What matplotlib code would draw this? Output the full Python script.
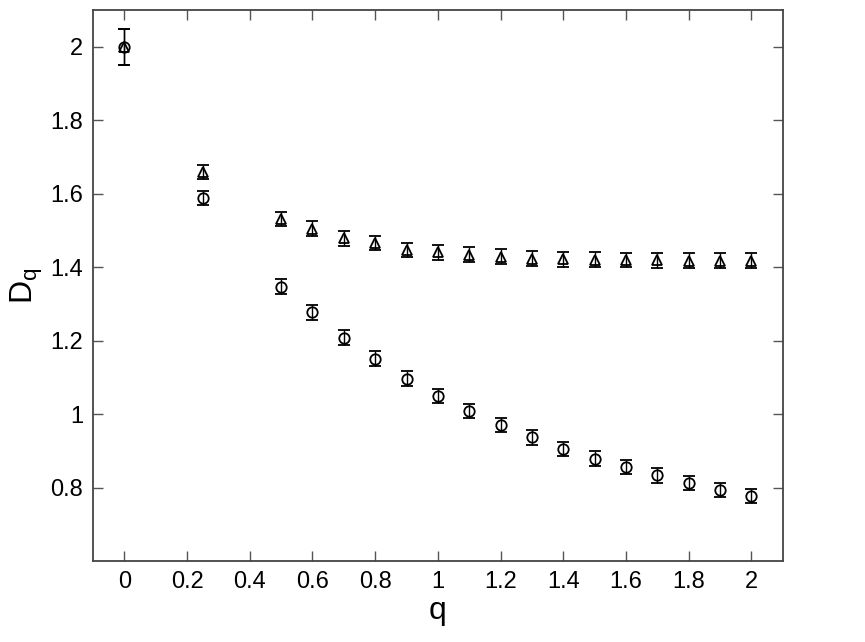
import matplotlib
matplotlib.use('Agg')
import matplotlib.pyplot as plt
import numpy as np

plt.rcParams['font.family'] = ['Liberation Sans', 'DejaVu Sans']

q = [0, 0.25, 0.5, 0.6, 0.7, 0.8, 0.9, 1.0, 1.1, 1.2, 1.3, 1.4, 1.5, 1.6, 1.7, 1.8, 1.9, 2.0]
# triangles (upper branch)
d_tri = [2.0, 1.66, 1.532, 1.505, 1.479, 1.466, 1.447, 1.441, 1.434, 1.429, 1.424, 1.422,
         1.421, 1.420, 1.419, 1.418, 1.418, 1.418]
err_tri = [0.05] + [0.02]*17
# circles (lower branch)
d_circ = [2.0, 1.589, 1.347, 1.277, 1.208, 1.151, 1.097, 1.050, 1.009, 0.971, 0.937, 0.905,
          0.879, 0.856, 0.834, 0.813, 0.794, 0.777]
err_circ = [0.05] + [0.02]*17

xticks = [0, 0.2, 0.4, 0.6, 0.8, 1, 1.2, 1.4, 1.6, 1.8, 2]
xticklabels = ['0', '0.2', '0.4', '0.6', '0.8', '1', '1.2', '1.4', '1.6', '1.8', '2']
yticks = [0.8, 1, 1.2, 1.4, 1.6, 1.8, 2]
yticklabels = ['0.8', '1', '1.2', '1.4', '1.6', '1.8', '2']

f = plt.figure(figsize=(8.65, 6.42), dpi=100)
ax = f.add_axes([0.1075, 0.126, 0.7975, 0.858])

ax.errorbar(q, d_circ, yerr=err_circ, fmt='o', ms=7.5, mfc='none', mec='k', mew=1.3,
            ecolor='k', elinewidth=1.0, capsize=4.5, capthick=1.3)
ax.errorbar(q, d_tri, yerr=err_tri, fmt='^', ms=7.5, mfc='none', mec='k', mew=1.3,
            ecolor='k', elinewidth=1.0, capsize=4.5, capthick=1.3)

ax.set_xlim(-0.1, 2.1)
ax.set_ylim(0.6, 2.1)
ax.set_xticks(xticks)
ax.set_xticklabels(xticklabels)
ax.set_yticks(yticks)
ax.set_yticklabels(yticklabels)
ax.tick_params(direction='in', length=7, width=1, top=True, right=True,
               labelsize=17, colors='#555555', labelcolor='k', pad=7)
for s in ax.spines.values():
    s.set_linewidth(1.3)
    s.set_color('#444444')

ax.set_xlabel('q', fontsize=23, labelpad=2)
ax.set_ylabel(r'D$_\mathregular{q}$', fontsize=23, labelpad=4)

f.savefig('out.png', dpi=100)
